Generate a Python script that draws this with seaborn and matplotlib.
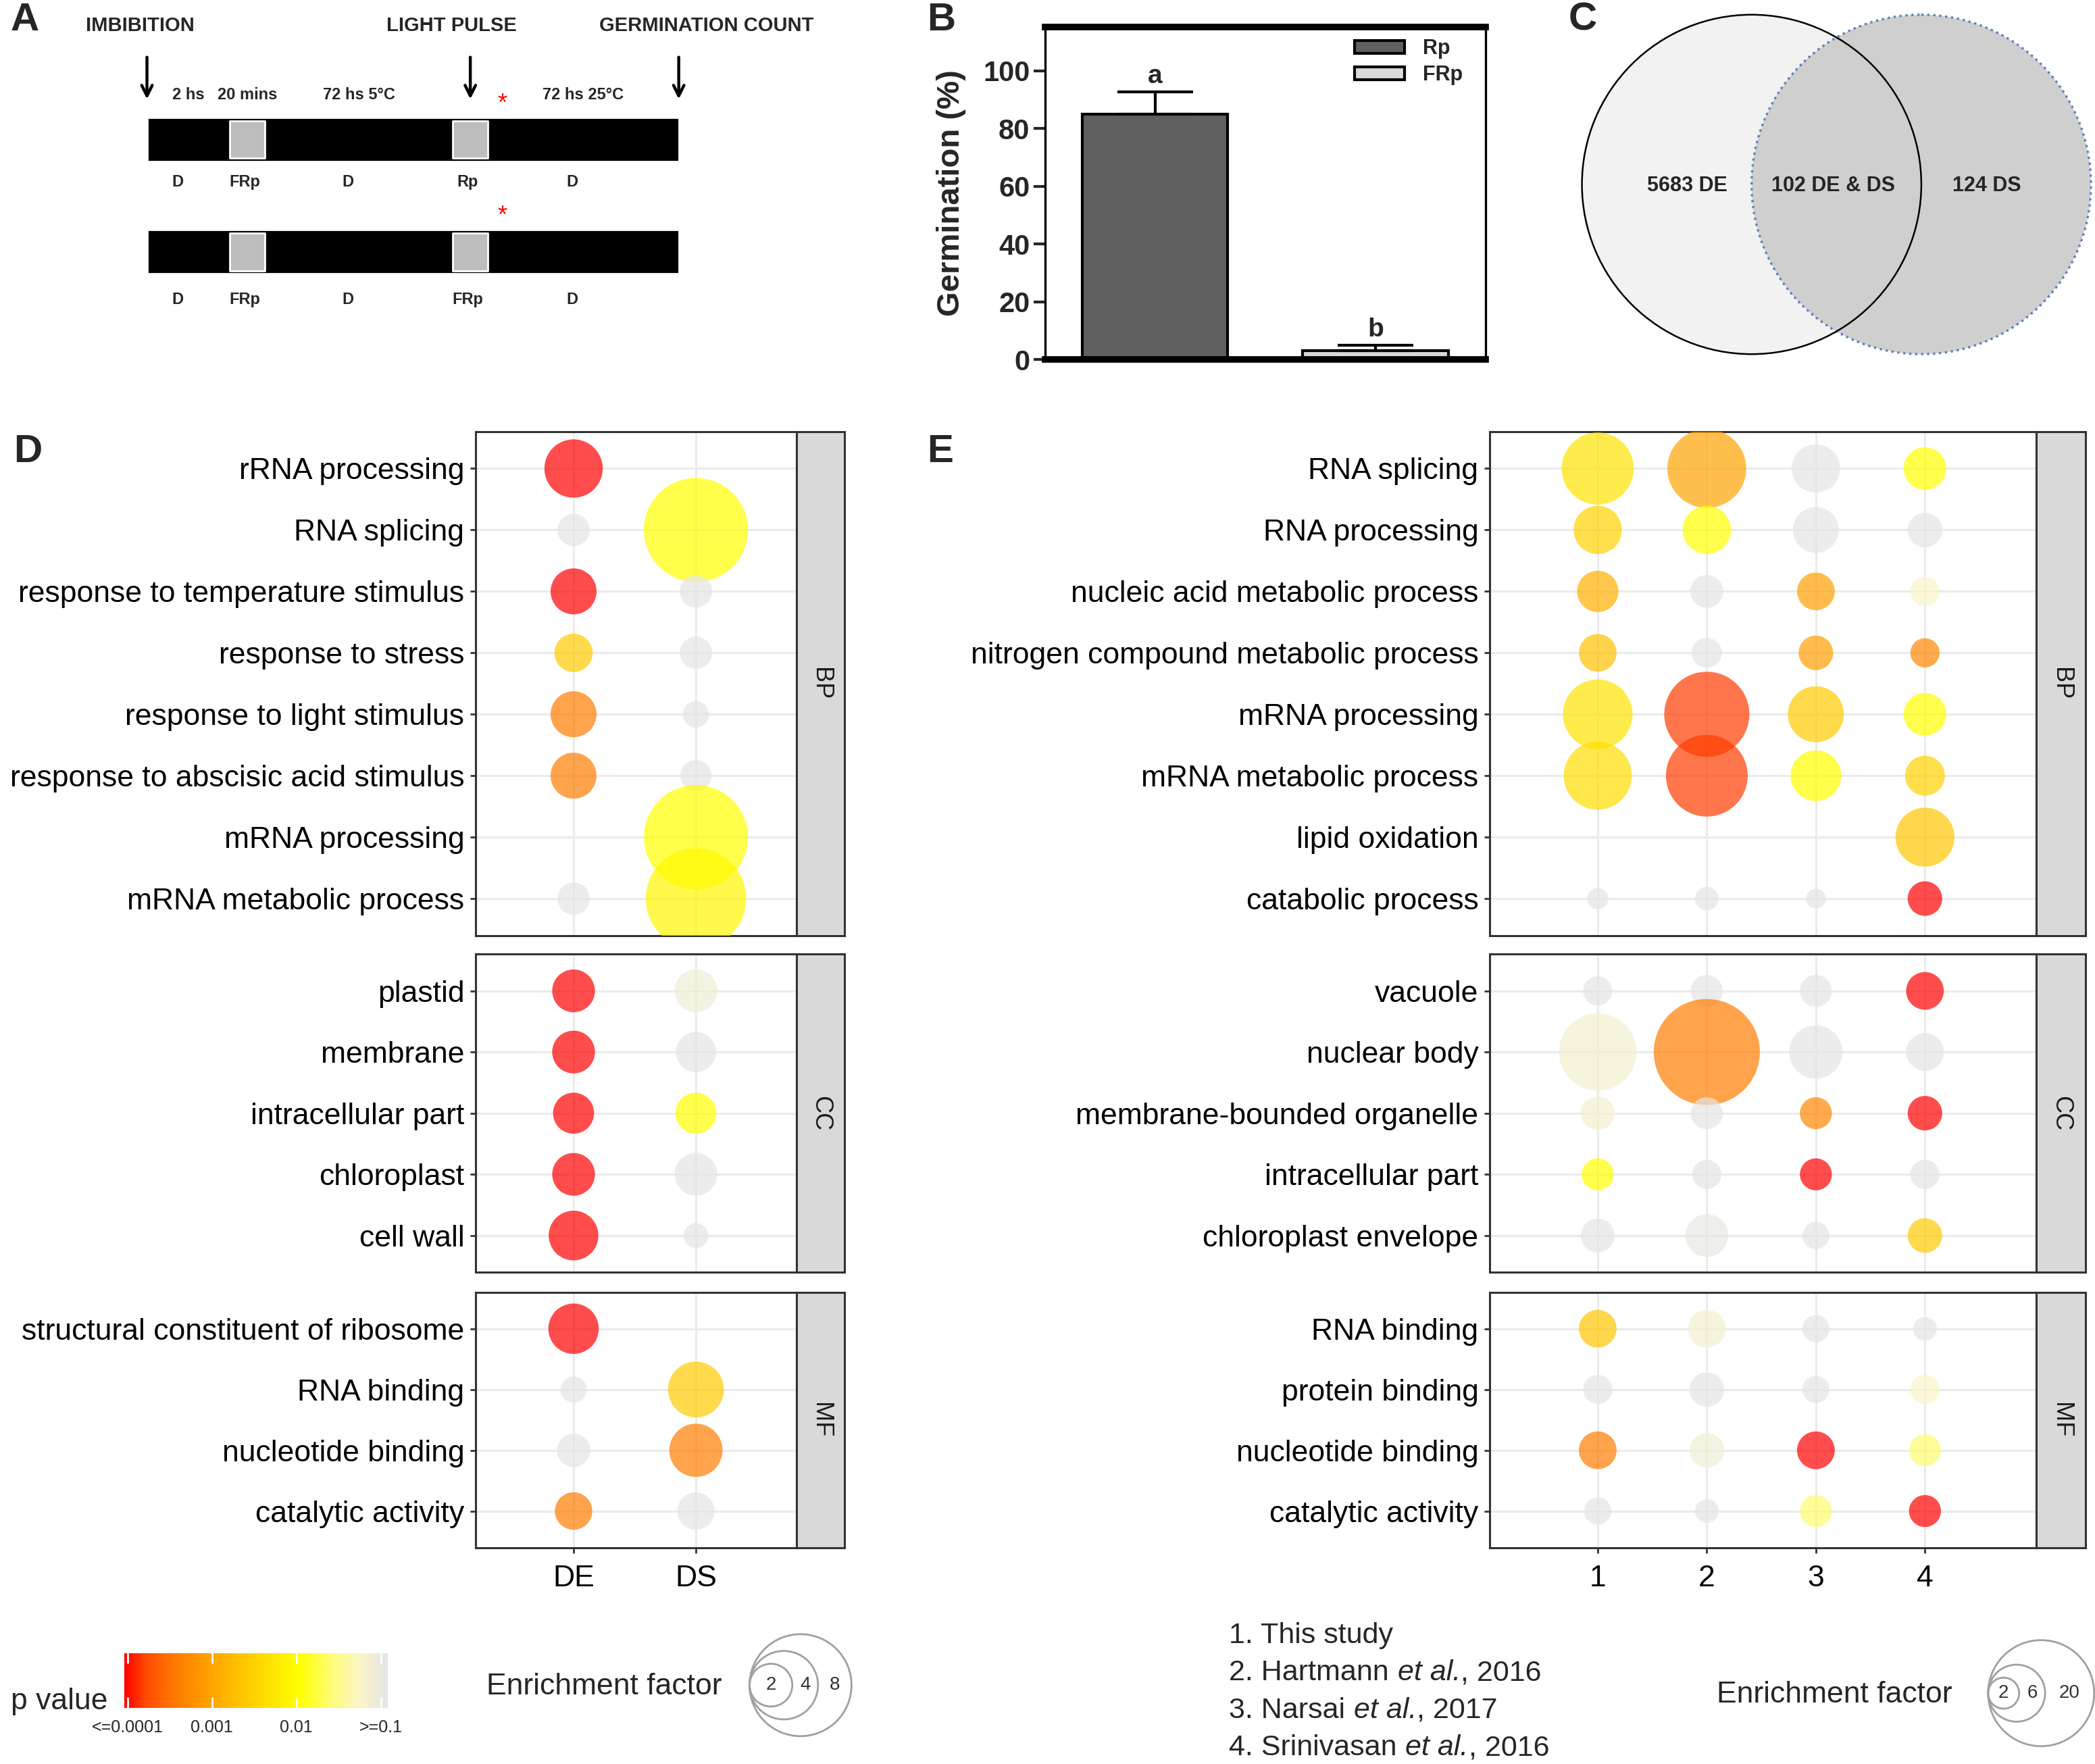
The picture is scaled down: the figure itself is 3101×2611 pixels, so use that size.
import numpy as np
import pandas as pd
import matplotlib
matplotlib.use('Agg')
import matplotlib.pyplot as plt
import seaborn as sns
from matplotlib.colors import LinearSegmentedColormap, Normalize
from matplotlib.patches import Patch, Circle
from matplotlib.colorbar import ColorbarBase

# ---------------- data ----------------
# A: light treatment schematic (segment widths are schematic units)
A_SEG_WIDTHS = [62, 26, 141, 26, 143]
A_SEG_TOP = ['D', 'FRp', 'D', 'Rp', 'D']
A_SEG_BOTTOM = ['D', 'FRp', 'D', 'FRp', 'D']
A_DURATIONS = ['2 hs', '20 mins', '72 hs 5°C', '', '72 hs 25°C']
A_EVENTS = ['IMBIBITION', 'LIGHT PULSE', 'GERMINATION COUNT']

# B: germination
B_TREAT = ['Rp', 'FRp']
B_GERM = [85, 3]
B_ERR = [7.7, 2.0]
B_LETTERS = ['a', 'b']
B_COLORS = ['#606060', '#d9d9d9']

# C: venn
C_LABELS = ['5683 DE', '102 DE & DS', '124 DS']

# D: GO enrichment DE / DS  (p value, enrichment factor); nan = not shown
D_GROUPS = ['DE', 'DS']
D_BP_TERMS = ['rRNA processing', 'RNA splicing', 'response to temperature stimulus',
              'response to stress', 'response to light stimulus',
              'response to abscisic acid stimulus', 'mRNA processing', 'mRNA metabolic process']
D_BP_P = [[1e-4, np.nan], [0.2, 0.01], [1e-4, 0.2], [0.0025, 0.2],
          [0.0004, 0.2], [0.0004, 0.2], [np.nan, 0.01], [0.2, 0.008]]
D_BP_EF = [[3.1, np.nan], [1.45, 8.3], [2.2, 1.45], [1.75, 1.45],
           [2.2, 1.2], [2.2, 1.4], [np.nan, 8.3], [1.45, 7.8]]
D_CC_TERMS = ['plastid', 'membrane', 'intracellular part', 'chloroplast', 'cell wall']
D_CC_P = [[1e-4, 0.07], [1e-4, 0.2], [1e-4, 0.01], [1e-4, 0.2], [1e-4, 0.2]]
D_CC_EF = [[2.0, 2.0], [2.0, 1.85], [1.9, 1.9], [2.0, 2.0], [2.45, 1.15]]
D_MF_TERMS = ['structural constituent of ribosome', 'RNA binding', 'nucleotide binding',
              'catalytic activity']
D_MF_P = [[1e-4, np.nan], [0.2, 0.0025], [0.2, 0.0004], [0.0004, 0.2]]
D_MF_EF = [[2.5, np.nan], [1.2, 2.9], [1.5, 2.7], [1.7, 1.7]]

# E: comparison with other studies
E_GROUPS = ['1', '2', '3', '4']
E_BP_TERMS = ['RNA splicing', 'RNA processing', 'nucleic acid metabolic process',
              'nitrogen compound metabolic process', 'mRNA processing',
              'mRNA metabolic process', 'lipid oxidation', 'catabolic process']
E_BP_P = [[0.005, 0.001, 0.2, 0.01], [0.003, 0.01, 0.2, 0.2],
          [0.0013, 0.2, 0.0009, 0.05], [0.002, 0.2, 0.0009, 0.0005],
          [0.005, 0.00016, 0.0025, 0.01], [0.004, 0.00016, 0.01, 0.003],
          [np.nan, np.nan, np.nan, 0.0023], [0.2, 0.2, 0.2, 1e-4]]
E_BP_EF = [[9.4, 11.2, 4.4, 3.5], [4.4, 4.4, 4.0, 2.4],
           [3.3, 2.2, 2.8, 1.8], [2.8, 1.9, 2.4, 1.8],
           [8.8, 13.0, 5.8, 3.5], [8.4, 12.0, 4.8, 3.1],
           [np.nan, np.nan, np.nan, 6.4], [1.1, 1.3, 0.9, 2.4]]
E_CC_TERMS = ['vacuole', 'nuclear body', 'membrane-bounded organelle',
              'intracellular part', 'chloroplast envelope']
E_CC_P = [[0.2, 0.2, 0.2, 1e-4], [0.06, 0.0004, 0.2, 0.2],
          [0.06, 0.2, 0.0005, 1e-4], [0.01, 0.2, 1e-4, 0.2],
          [0.2, 0.09, 0.2, 0.0025]]
E_CC_EF = [[1.8, 2.1, 2.1, 2.8], [10.8, 20.0, 5.3, 2.8],
           [2.3, 2.1, 2.1, 2.4], [2.1, 1.8, 2.1, 1.8],
           [2.3, 3.5, 1.6, 2.4]]
E_MF_TERMS = ['RNA binding', 'protein binding', 'nucleotide binding', 'catalytic activity']
E_MF_P = [[0.0023, 0.06, 0.2, 0.2], [0.2, 0.2, 0.2, 0.05],
          [0.0004, 0.07, 1e-4, 0.022], [0.2, 0.2, 0.022, 1e-4]]
E_MF_EF = [[2.8, 2.8, 1.6, 1.3], [1.8, 2.4, 1.6, 1.8],
           [2.8, 2.4, 2.8, 2.1], [1.6, 1.3, 2.1, 2.1]]
E_STUDY_NAMES = ['1. This study', '2. Hartmann', '3. Narsai', '4. Srinivasan']
E_STUDY_YEARS = [None, '2016', '2017', '2016']

P_TICKS = [-4, -3, -2, -1]
P_TICK_LABELS = ['<=0.0001', '0.001', '0.01', '>=0.1']
D_SIZE_KEYS = [2, 4, 8]
E_SIZE_KEYS = [2, 6, 20]

# ---------------- style ----------------
sns.set_theme(style='white')
plt.rcParams['font.family'] = ['Liberation Sans', 'DejaVu Sans']

DPI = 200
W, H = 1568, 1320          # layout grid (reference screen units)
fig = plt.figure(figsize=(3101 / DPI, 2611 / DPI), dpi=DPI)
PX = 3101 / W * 72 / DPI   # points per layout unit


def rect(x0, y0, x1, y1):
    return [x0 / W, 1 - y1 / H, (x1 - x0) / W, (y1 - y0) / H]


ov = fig.add_axes([0, 0, 1, 1])
ov.set_xlim(0, W)
ov.set_ylim(H, 0)
ov.axis('off')

for lab, x, y in [('A', 8, 15), ('B', 694, 15), ('C', 1174, 15), ('D', 10, 338), ('E', 694, 338)]:
    ov.text(x, y, lab, fontsize=21, fontweight='bold', va='center', ha='left')

# ---------------- A ----------------
edges = np.concatenate([[0], np.cumsum(A_SEG_WIDTHS)]) + 110
centers = (edges[:-1] + edges[1:]) / 2
for y0, labels, ylab in [(88, A_SEG_TOP, 136), (172, A_SEG_BOTTOM, 224)]:
    ov.broken_barh([(edges[0], edges[-1] - edges[0])], (y0, 33), facecolors='black')
    pulses = [(edges[i], A_SEG_WIDTHS[i]) for i, l in enumerate(labels) if l != 'D']
    ov.broken_barh(pulses, (y0 + 2.5, 28), facecolors='#bdbdbd')
    for c, l in zip(centers, labels):
        ov.text(c - (8 if l == 'D' else 2), ylab, l, ha='center', va='center',
                fontsize=8.5, fontweight='bold')
    ov.text(edges[4] + 11, y0 - 10, '*', color='red', ha='center', va='center', fontsize=13)
for c, t in zip(centers, A_DURATIONS):
    ov.text(c, 71, t, ha='center', va='center', fontsize=8.5, fontweight='bold')
for x in [edges[0], centers[3], edges[-1]]:
    ov.annotate('', xy=(x, 77), xytext=(x, 40),
                arrowprops=dict(arrowstyle='->', lw=1.6, color='black', mutation_scale=14))
for x, t in zip([105, 338, 529], A_EVENTS):
    ov.text(x, 19, t, ha='center', va='center', fontsize=10.5, fontweight='bold')

# ---------------- B ----------------
axb = fig.add_axes(rect(782, 20, 1112, 269))
bdf = pd.DataFrame({'treat': B_TREAT, 'germ': B_GERM})
sns.barplot(data=bdf, x='treat', y='germ', hue='treat', palette=B_COLORS, width=0.66,
            edgecolor='black', linewidth=1.5, errorbar=None, legend=False, ax=axb)
axb.errorbar(range(len(B_GERM)), B_GERM, yerr=[[0] * len(B_ERR), B_ERR], fmt='none',
             ecolor='black', elinewidth=1.5, capsize=20, capthick=1.5, zorder=1)
for i, (g, e, l) in enumerate(zip(B_GERM, B_ERR, B_LETTERS)):
    axb.text(i, g + e + 1.2, l, ha='center', va='bottom', fontsize=14, fontweight='bold')
axb.set_xlim(-0.5, 1.5)
axb.set_ylim(0, 115.3)
axb.set_yticks([0, 20, 40, 60, 80, 100])
axb.set_xticks([])
axb.set_xlabel('')
axb.set_ylabel('Germination (%)', fontsize=17, fontweight='bold', labelpad=9)
axb.tick_params(axis='y', left=True, direction='out', length=6, width=1.5, labelsize=15, pad=2)
for t in axb.get_yticklabels():
    t.set_fontweight('bold')
axb.spines['top'].set_linewidth(3.5)
axb.spines['bottom'].set_linewidth(3.5)
axb.spines['left'].set_linewidth(1.2)
axb.spines['right'].set_linewidth(1.2)
for s in axb.spines.values():
    s.set_color('black')
handles = [Patch(facecolor=c, edgecolor='black', linewidth=1.5, label=t)
           for c, t in zip(B_COLORS, B_TREAT)]
axb.legend(handles=handles, loc='upper right', bbox_to_anchor=(0.99, 1.02), frameon=False,
           prop={'weight': 'bold', 'size': 11}, handlelength=2.4, handleheight=0.6,
           labelspacing=0.3, handletextpad=0.9)

# ---------------- C ----------------
axc = fig.add_axes(rect(1176, 4, 1568, 272))
axc.set_xlim(1176, 1568)
axc.set_ylim(272, 4)
axc.axis('off')
axc.add_patch(Circle((1311, 138), 127, facecolor='#f2f2f2', edgecolor='none'))
axc.add_patch(Circle((1438, 138), 127, facecolor='#cfcfcf', edgecolor='#5b7fc0',
                     linestyle=':', linewidth=1.2))
axc.add_patch(Circle((1311, 138), 127, facecolor='none', edgecolor='black', linewidth=0.9))
for x, t in zip([1263, 1372, 1487], C_LABELS):
    axc.text(x, 139, t, ha='center', va='center', fontsize=11, fontweight='bold')

# ---------------- D / E bubble panels ----------------
# colour stops over log10(p) from -4 to -1 (red-orange-yellow-grey ramp)
stops = [(-4.0, '#ff0000'), (-3.75, '#ff4b00'), (-3.4, '#ff7d00'), (-3.0, '#ffa500'),
         (-2.5, '#ffd400'), (-2.0, '#ffff00'), (-1.6, '#fffc82'), (-1.3, '#faf5c8'),
         (-1.0, '#e5e5e5')]
cmap = LinearSegmentedColormap.from_list('pv', [((v + 4) / 3, c) for v, c in stops])


def to_long(terms, groups, pvals, efs):
    rows = []
    for i, t in enumerate(terms):
        for j, g in enumerate(groups):
            p, e = pvals[i][j], efs[i][j]
            if np.isnan(p):
                continue
            rows.append({'term': t, 'group': g, 'ypos': i, 'xpos': j,
                         'logp': np.clip(np.log10(p), -4, -1), 'ef': e})
    return pd.DataFrame(rows)


def bubble(x0, x1, y0, y1, terms, groups, pvals, efs, strip, xlim, area, show_x):
    ax = fig.add_axes(rect(x0, y0, x1, y1))
    df = to_long(terms, groups, pvals, efs)
    n0, n1 = 1.0, 25.0
    sizes = ((area[0] * n0 + area[1]) * PX ** 2, (area[0] * n1 + area[1]) * PX ** 2)
    sns.scatterplot(data=df, x='xpos', y='ypos', hue='logp', size='ef', palette=cmap,
                    hue_norm=(-4, -1), sizes=sizes, size_norm=(n0, n1), alpha=0.7,
                    linewidth=0, legend=False, ax=ax, zorder=3)
    ax.set_xlim(*xlim)
    ax.set_ylim(len(terms) - 1 + 0.6, -0.6)
    ax.set_yticks(range(len(terms)))
    ax.set_yticklabels(terms)
    ax.set_xticks(range(len(groups)))
    ax.set_xticklabels(groups if show_x else [])
    ax.set_xlabel('')
    ax.set_ylabel('')
    ax.grid(True, color='#ebebeb', linewidth=1.1)
    ax.set_axisbelow(True)
    ax.tick_params(axis='y', left=True, length=3, width=1, color='#333333',
                   labelsize=16, labelcolor='black', pad=3)
    ax.tick_params(axis='x', bottom=show_x, length=3, width=1, color='#333333',
                   labelsize=16, labelcolor='black', pad=6)
    for s in ax.spines.values():
        s.set_color('#333333')
        s.set_linewidth(1.1)
    sx = fig.add_axes(rect(x1, y0, x1 + (36 if x1 < 1000 else 37), y1))
    sx.set_facecolor('#d9d9d9')
    sx.set_xticks([])
    sx.set_yticks([])
    for s in sx.spines.values():
        s.set_color('#333333')
        s.set_linewidth(1.1)
    sx.text(0.5, 0.5, strip, rotation=-90, ha='center', va='center', fontsize=13,
            color='#1a1a1a', transform=sx.transAxes)
    return ax


PANEL_Y = [(323, 700), (714, 952), (967, 1158)]
D_AREA = (800, -576)   # marker area (layout units^2) = a * EF + b
E_AREA = (320, -100)
d_sets = [(D_BP_TERMS, D_BP_P, D_BP_EF, 'BP'), (D_CC_TERMS, D_CC_P, D_CC_EF, 'CC'),
          (D_MF_TERMS, D_MF_P, D_MF_EF, 'MF')]
e_sets = [(E_BP_TERMS, E_BP_P, E_BP_EF, 'BP'), (E_CC_TERMS, E_CC_P, E_CC_EF, 'CC'),
          (E_MF_TERMS, E_MF_P, E_MF_EF, 'MF')]
for k, ((y0, y1), (t, p, e, s)) in enumerate(zip(PANEL_Y, d_sets)):
    bubble(356, 596, y0, y1, t, D_GROUPS, p, e, s, (-0.8, 1.82), D_AREA, k == 2)
for k, ((y0, y1), (t, p, e, s)) in enumerate(zip(PANEL_Y, e_sets)):
    bubble(1115, 1524, y0, y1, t, E_GROUPS, p, e, s, (-0.99, 4.02), E_AREA, k == 2)

# ---------------- legends ----------------
cax = fig.add_axes(rect(93, 1237, 290, 1278))
cb = ColorbarBase(cax, cmap=cmap, norm=Normalize(-4.04, -0.92), orientation='horizontal')
cb.outline.set_visible(False)
cb.set_ticks(P_TICKS)
cb.set_ticklabels(P_TICK_LABELS)
cax.tick_params(axis='x', labelsize=9, length=0, pad=6)
for v in P_TICKS:
    cax.plot([v, v], [0, 0.18], color='white', lw=1)
    cax.plot([v, v], [0.82, 1], color='white', lw=1)
ov.text(8, 1273, 'p value', fontsize=16, ha='left', va='center')

for keys, area, left, cy, tx, ty in [(D_SIZE_KEYS, D_AREA, 561, 1261, 364, 1262),
                                     (E_SIZE_KEYS, E_AREA, 1488, 1267, 1285, 1268)]:
    ov.text(tx, ty, 'Enrichment factor', fontsize=16, ha='left', va='center')
    diam = [np.sqrt(area[0] * k + area[1]) for k in keys]
    ov.scatter([left + d / 2 for d in diam], [cy] * len(diam),
               s=[(d * PX) ** 2 for d in diam], facecolors='none',
               edgecolors='#a0a0a0', linewidths=1)
    prev = 0
    for k, d in zip(keys, diam):
        ov.text(left + (prev + d) / 2, cy, str(k), fontsize=10, ha='center', va='center',
                color='#333333')
        prev = d

for i, (name, year) in enumerate(zip(E_STUDY_NAMES, E_STUDY_YEARS)):
    t = ov.text(920, 1224 + 28 * i, name, fontsize=15.5, ha='left', va='center')
    if year is None:
        continue
    t = ov.annotate('et al.', xy=(1, 0.5), xycoords=t, xytext=(4.5, 0),
                    textcoords='offset points', fontsize=15.5, style='italic',
                    ha='left', va='center')
    ov.annotate(', ' + year, xy=(1, 0.5), xycoords=t, xytext=(0, 0),
                textcoords='offset points', fontsize=15.5, ha='left', va='center')

fig.savefig('out.png', dpi=DPI)
